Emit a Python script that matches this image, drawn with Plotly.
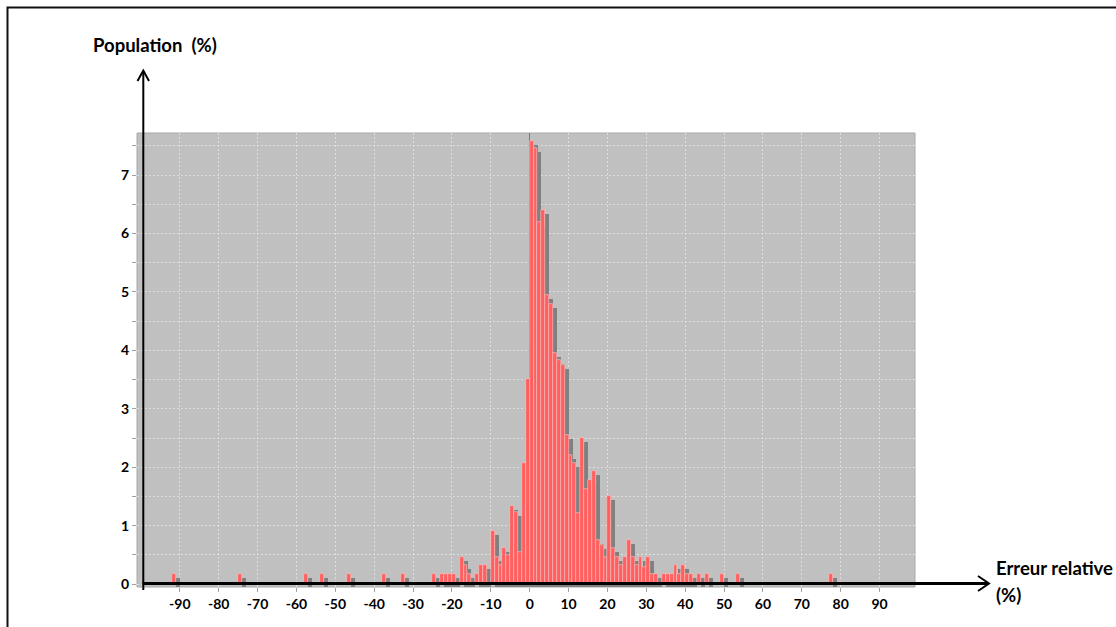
import plotly.graph_objects as go

# ---- data: histogram of relative error (bin left edges in %, population in %) ----
bin_left = [-92, -75, -58, -54, -47, -38, -33, -25,
            -23, -22, -21, -20, -18, -17, -16, -14, -13, -12,
            -10, -9, -8, -7, -6, -5, -4, -3, -2, -1,
            0, 1, 2, 3, 4, 5, 6, 7, 8, 9,
            10, 11, 12, 13, 14, 15, 16, 17, 18, 19,
            20, 21, 22, 23, 24, 25, 26, 27, 28, 29,
            30, 31, 32, 34, 35, 36, 37, 38, 39, 40,
            41, 43, 45, 49, 53, 77]
population = [0.17, 0.17, 0.17, 0.17, 0.17, 0.17, 0.17, 0.17,
              0.17, 0.17, 0.17, 0.17, 0.47, 0.33, 0.17, 0.17, 0.33, 0.33,
              0.90, 0.47, 0.33, 0.61, 0.50, 1.34, 1.24, 0.55, 2.07, 3.51,
              7.59, 7.47, 6.20, 6.41, 4.95, 4.80, 3.95, 3.84, 3.75, 2.56,
              2.21, 2.07, 1.21, 2.50, 1.62, 1.78, 1.93, 0.75, 0.67, 0.47,
              1.50, 0.61, 0.47, 0.33, 0.47, 0.75, 0.47, 0.33, 0.47, 0.30,
              0.47, 0.18, 0.18, 0.18, 0.18, 0.18, 0.33, 0.18, 0.33, 0.18,
              0.18, 0.18, 0.18, 0.18, 0.18, 0.18]

x_tick_vals = [-90, -80, -70, -60, -50, -40, -30, -20, -10, 0, 10, 20, 30, 40, 50, 60, 70, 80, 90]
x_tick_text = ["-90", "-80", "-70", "-60", "-50", "-40", "-30", "-20", "-10", "0",
               "10", "20", "30", "40", "50", "60", "70", "80", "90"]
y_tick_vals = [0, 0.5, 1, 1.5, 2, 2.5, 3, 3.5, 4, 4.5, 5, 5.5, 6, 6.5, 7, 7.5]
y_tick_text = ["0", "", "1", "", "2", "", "3", "", "4", "", "5", "", "6", "", "7", ""]

y_title = "Population  (%)"
x_title_1 = "Erreur relative"
x_title_2 = "(%)"

# ---- layout geometry (pixels) ----
W, H = 1116, 627
L, R, T, B = 137, 201, 133, 40
PW, PH = W - L - R, H - T - B
X_RANGE = [-101.0, 99.1]
Y_RANGE = [-0.05, 7.72]
px_per_x = PW / (X_RANGE[1] - X_RANGE[0])
px_per_y = PH / (Y_RANGE[1] - Y_RANGE[0])
SHADOW_PX = 4


def fx(x):
    return (x - L) / PW


def fy(y):
    return (H - B - y) / PH


centers = [b + 0.5 for b in bin_left]
shadow_dx = SHADOW_PX / px_per_x
shadow_dy = SHADOW_PX / px_per_y

fig = go.Figure()
# shadows (offset right and down, like the original renderer)
fig.add_trace(go.Bar(
    x=[c + shadow_dx for c in centers],
    y=population,
    base=[-shadow_dy] * len(population),
    width=1.0,
    marker=dict(color="#808080", line=dict(width=0)),
    hoverinfo="skip",
    showlegend=False,
))
# red bars
fig.add_trace(go.Bar(
    x=centers,
    y=population,
    width=1.0,
    marker=dict(color="#ff5f5f", line=dict(color="#ffc4c4", width=0.6)),
    showlegend=False,
))

tick_font = dict(family="Lato", size=14, color="#000000", weight="bold")

fig.update_layout(
    width=W, height=H,
    margin=dict(l=L, r=R, t=T, b=B, pad=0),
    paper_bgcolor="#ffffff",
    plot_bgcolor="#c0c0c0",
    barmode="overlay",
    bargap=0,
    xaxis=dict(
        range=X_RANGE, tickvals=x_tick_vals, ticktext=x_tick_text,
        showgrid=True, gridcolor="#dedede", griddash="2px,2px", gridwidth=1,
        zeroline=True, zerolinecolor="#7a7a7a", zerolinewidth=1,
        ticks="outside", ticklen=4, tickcolor="#a0a0a0",
        tickfont=tick_font, showline=False,
    ),
    yaxis=dict(
        range=Y_RANGE, tickvals=y_tick_vals, ticktext=y_tick_text,
        showgrid=True, gridcolor="#dedede", griddash="2px,2px", gridwidth=1,
        zeroline=False,
        ticks="outside", ticklen=4, tickcolor="#a0a0a0",
        tickfont=tick_font, showline=False,
    ),
)

shapes = []
# plot-area outline
shapes.append(dict(type="rect", xref="paper", yref="paper", x0=0, x1=1, y0=0, y1=1,
                   line=dict(color="#a8a8a8", width=1), layer="below"))
# outer frame (left and top edges)
shapes.append(dict(type="path", xref="paper", yref="paper",
                   path=f"M {fx(7.5)} {fy(640)} L {fx(7.5)} {fy(7.5)} L {fx(1130)} {fy(7.5)}",
                   line=dict(color="#111111", width=2)))
# y axis with arrow
shapes.append(dict(type="line", xref="paper", yref="paper",
                   x0=fx(143.3), x1=fx(143.3), y0=fy(590), y1=fy(71),
                   line=dict(color="#000000", width=2)))
shapes.append(dict(type="path", xref="paper", yref="paper",
                   path=f"M {fx(137.5)} {fy(81)} L {fx(143.3)} {fy(70.5)} L {fx(149)} {fy(81)}",
                   line=dict(color="#000000", width=2)))
# x axis with arrow
shapes.append(dict(type="line", xref="paper", yref="paper",
                   x0=fx(142.5), x1=fx(988), y0=fy(583.5), y1=fy(583.5),
                   line=dict(color="#000000", width=3)))
shapes.append(dict(type="path", xref="paper", yref="paper",
                   path=f"M {fx(978)} {fy(576)} L {fx(989)} {fy(583.5)} L {fx(978)} {fy(591)}",
                   line=dict(color="#000000", width=2)))
fig.update_layout(shapes=shapes)

title_font = dict(family="Lato", size=18.5, color="#000000", weight="bold")
fig.add_annotation(text=y_title, xref="paper", yref="paper",
                   x=fx(91), y=fy(45), xanchor="left", yanchor="middle",
                   showarrow=False, font=title_font)
fig.add_annotation(text=x_title_1, xref="paper", yref="paper",
                   x=fx(994), y=fy(568), xanchor="left", yanchor="middle",
                   showarrow=False, font=title_font)
fig.add_annotation(text=x_title_2, xref="paper", yref="paper",
                   x=fx(994), y=fy(595), xanchor="left", yanchor="middle",
                   showarrow=False, font=title_font)

fig.write_html("out.html",
               config={"displayModeBar": False},
               post_script="document.body.style.margin='0';document.body.style.overflow='hidden';")
